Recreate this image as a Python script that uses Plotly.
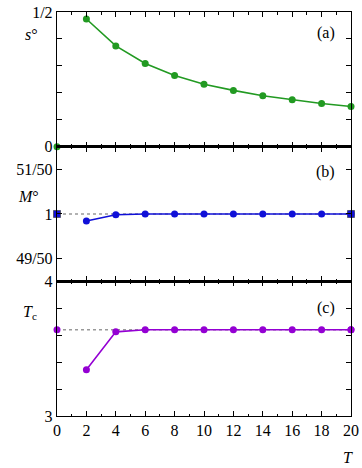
import plotly.graph_objects as go
from plotly.subplots import make_subplots

T = [2, 4, 6, 8, 10, 12, 14, 16, 18, 20]
s_vals = [0.474, 0.374, 0.309, 0.264, 0.232, 0.209, 0.189, 0.174, 0.160, 0.149]
M_vals = [0.99685, 0.9997, 1.0, 1.0, 1.0, 1.0, 1.0, 1.0, 1.0, 1.0]
Tc_vals = [3.343, 3.625, 3.640, 3.641, 3.641, 3.641, 3.641, 3.641, 3.641, 3.641]
T_ref = [0, 20]
s_ref = 0.0
M_ref = 1.0
Tc_ref = 3.641

x_ticks = list(range(0, 21, 2))
s_tickvals = [0, 0.1, 0.2, 0.3, 0.4, 0.5]
s_ticktext = ["0", "", "", "", "", "1/2"]
M_tickvals = [0.98, 1.0, 1.02]
M_ticktext = ["49/50", "1", "51/50"]
Tc_tickvals = [3.0, 3.2, 3.4, 3.6, 3.8, 4.0]
Tc_ticktext = ["3", "", "", "", "", "4"]

green = "#229a22"
blue = "#1010d8"
purple = "#9400d3"
grey = "#999999"

fig = make_subplots(rows=3, cols=1, shared_xaxes=True, vertical_spacing=0)

# panel (a)
fig.add_trace(go.Scatter(x=[0], y=[s_ref], mode="markers",
                         marker=dict(color=green, size=7), cliponaxis=False), row=1, col=1)
fig.add_trace(go.Scatter(x=T, y=s_vals, mode="lines+markers",
                         line=dict(color=green, width=1.6),
                         marker=dict(color=green, size=7), cliponaxis=False), row=1, col=1)

# panel (b)
fig.add_trace(go.Scatter(x=T_ref, y=[M_ref, M_ref], mode="lines+markers",
                         line=dict(color=grey, width=1.5, dash="dot"),
                         marker=dict(color=blue, size=7, symbol="square",
                                     line=dict(color="#555577", width=1)),
                         cliponaxis=False), row=2, col=1)
fig.add_trace(go.Scatter(x=T, y=M_vals, mode="lines+markers",
                         line=dict(color=blue, width=1.6),
                         marker=dict(color=blue, size=7), cliponaxis=False), row=2, col=1)

# panel (c)
fig.add_trace(go.Scatter(x=T_ref, y=[Tc_ref, Tc_ref], mode="lines+markers",
                         line=dict(color=grey, width=1.5, dash="dot"),
                         marker=dict(color=purple, size=7),
                         cliponaxis=False), row=3, col=1)
fig.add_trace(go.Scatter(x=T, y=Tc_vals, mode="lines+markers",
                         line=dict(color=purple, width=1.6),
                         marker=dict(color=purple, size=7), cliponaxis=False), row=3, col=1)

font = dict(family="Liberation Serif", size=16, color="black")

xcommon = dict(range=[0, 20], tickvals=x_ticks, ticks="inside", ticklen=5,
               tickwidth=1, tickcolor="black", showline=True, linecolor="black",
               linewidth=1.2, mirror="ticks", showgrid=False, zeroline=False,
               automargin=False, ticklabeloverflow="allow",
               minor=dict(dtick=1, tick0=0, ticks="inside", ticklen=2.5,
                          tickwidth=1, tickcolor="black", showgrid=False),
               tickfont=font)
for r in (1, 2, 3):
    fig.update_xaxes(**xcommon, row=r, col=1)

ycommon = dict(ticks="inside", ticklen=5, tickwidth=1, tickcolor="black",
               showline=True, linecolor="black", linewidth=1.2, mirror="ticks",
               showgrid=False, zeroline=False, tickfont=font, automargin=False,
               ticklabeloverflow="allow")
fig.update_yaxes(range=[0, 0.5], tickvals=s_tickvals, ticktext=s_ticktext,
                 **ycommon, row=1, col=1)
fig.update_yaxes(range=[0.97, 1.03], tickvals=M_tickvals, ticktext=M_ticktext,
                 **ycommon, row=2, col=1)
fig.update_yaxes(range=[3.0, 4.0], tickvals=Tc_tickvals, ticktext=Tc_ticktext,
                 **ycommon, row=3, col=1)

W, H = 362, 468
ml, mr, mt, mb = 57, 10.5, 12, 52
pw = W - ml - mr
ph = H - mt - mb

def px_x(px):
    return (px - ml) / pw

def px_y(py):
    return (H - mb - py) / ph

anns = [
    ("(a)", 326, 33),
    ("(b)", 326, 172),
    ("(c)", 326, 308),
    ("<i>s</i>°", 31, 34),
    ("<i>M</i>°", 28, 197),
    ("<i>T</i><sub>c</sub>", 30, 312),
    ("<i>T</i>", 348, 457),
]
for text, x, y in anns:
    fig.add_annotation(text=text, x=px_x(x), y=px_y(y), xref="paper", yref="paper",
                       showarrow=False, xanchor="center", yanchor="middle", font=font)

fig.update_layout(width=W, height=H, margin=dict(l=ml, r=mr, t=mt, b=mb),
                  paper_bgcolor="white", plot_bgcolor="white", showlegend=False,
                  font=font, hovermode=False)

fig.write_html("out.html", config={"displayModeBar": False, "staticPlot": True},
               post_script="document.body.style.margin='0';"
                           "document.body.style.overflow='hidden';")
